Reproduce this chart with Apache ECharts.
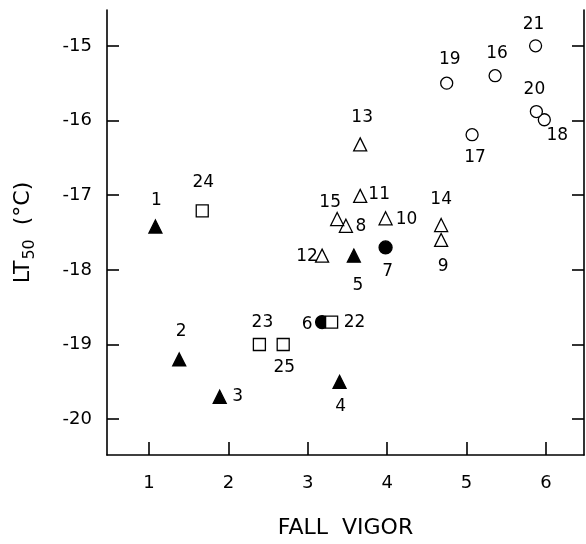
<!DOCTYPE html>
<html>
<head>
<meta charset="utf-8">
<script src="https://cdn.jsdelivr.net/npm/echarts@6/dist/echarts.min.js"></script>
<style>
html,body{margin:0;padding:0;background:#fff;}
#chart{width:586px;height:544px;}
</style>
</head>
<body>
<div id="chart"></div>
<script>
// ---- data ----
const ids    = [1, 2, 3, 4, 5, 6, 7, 8, 9, 10, 11, 12, 13, 14, 15, 16, 17, 18, 19, 20, 21, 22, 23, 24, 25];
const vigor  = [1.08, 1.38, 1.89, 3.40, 3.58, 3.18, 3.98, 3.48, 4.68, 3.98, 3.66, 3.18, 3.66, 4.68, 3.37, 5.36, 5.07, 5.98, 4.75, 5.88, 5.87, 3.30, 2.39, 1.67, 2.69];
const lt50   = [-17.42, -19.20, -19.70, -19.50, -17.81, -18.70, -17.70, -17.41, -17.60, -17.31, -17.01, -17.81, -16.32, -17.40, -17.32, -15.40, -16.19, -15.99, -15.50, -15.88, -15.00, -18.70, -19.00, -17.21, -19.00];
const groupOf = ['A','A','A','A','A','B','B','C','C','C','C','C','C','C','C','D','D','D','D','D','D','E','E','E','E'];
const xTicks = [1, 2, 3, 4, 5, 6];
const yTicks = [-20, -19, -18, -17, -16, -15];

// ---- styles (label offsets from point centre, px) ----
const labelOffset = {
  1:[1,-26], 2:[2,-28], 3:[18,0], 4:[1,25], 5:[4,30], 6:[-15,2], 7:[2,24],
  8:[15,1], 9:[2,27], 10:[21,1], 11:[19,-1], 12:[-15,1], 13:[2,-27], 14:[0,-25],
  15:[-7,-16], 16:[2,-22], 17:[3,23], 18:[13,16], 19:[3,-24], 20:[-2,-22],
  21:[-2,-21], 22:[23,0], 23:[3,-22], 24:[1,-28], 25:[1,23]
};
const groupStyle = {
  A:{symbol:'triangle', size:13, fill:'#000'},
  B:{symbol:'circle',   size:13, fill:'#000'},
  C:{symbol:'triangle', size:13, fill:'#fff'},
  D:{symbol:'circle',   size:12, fill:'#fff'},
  E:{symbol:'rect',     size:12, fill:'#fff'}
};
const FONT = 'DejaVu Sans';

const series = Object.keys(groupStyle).map(g => {
  const st = groupStyle[g];
  const data = [];
  ids.forEach((id, i) => {
    if (groupOf[i] !== g) return;
    data.push({
      value: [vigor[i], lt50[i]],
      name: String(id),
      label: {offset: labelOffset[id]}
    });
  });
  return {
    type: 'scatter',
    symbol: st.symbol,
    symbolSize: st.size,
    itemStyle: {color: st.fill, borderColor: '#000', borderWidth: 1.3, opacity: 1},
    label: {
      show: true, position: 'inside', formatter: p => p.name,
      color: '#000', fontFamily: FONT, fontSize: 17, opacity: 1
    },
    emphasis: {disabled: true},
    data: data
  };
});

const chart = echarts.init(document.getElementById('chart'), null, {renderer: 'canvas'});
const axisLineStyle = {color: '#000', width: 1.6};
chart.setOption({
  animation: false,
  backgroundColor: '#fff',
  grid: {left: 107, right: 2, top: 10, bottom: 87},
  xAxis: {
    type: 'value', min: 0.47, max: 6.48,
    axisLine: {show: true, onZero: false, lineStyle: axisLineStyle},
    axisTick: {show: true, inside: true, length: 13, customValues: xTicks, lineStyle: axisLineStyle},
    axisLabel: {customValues: xTicks, margin: 19, color: '#000', fontFamily: FONT, fontSize: 18},
    splitLine: {show: false},
    name: 'FALL  VIGOR', nameLocation: 'middle', nameGap: 62,
    nameTextStyle: {color: '#000', fontFamily: FONT, fontSize: 22}
  },
  yAxis: [{
    type: 'value', min: -20.48, max: -14.52, position: 'left',
    axisLine: {show: true, onZero: false, lineStyle: axisLineStyle},
    axisTick: {show: true, inside: true, length: 12, customValues: yTicks, lineStyle: axisLineStyle},
    axisLabel: {customValues: yTicks, margin: 15, color: '#000', fontFamily: FONT, fontSize: 18},
    splitLine: {show: false},
    name: '{a|LT}{b|50}{a|  (°C)}', nameLocation: 'middle', nameRotate: 90, nameGap: 71,
    nameTextStyle: {
      color: '#000', fontFamily: FONT,
      rich: {
        a: {fontFamily: FONT, fontSize: 22, color: '#000', lineHeight: 26},
        b: {fontFamily: FONT, fontSize: 16, color: '#000', padding: [14, 0, 0, 1], lineHeight: 26}
      }
    }
  }, {
    type: 'value', min: -20.48, max: -14.52, position: 'right',
    axisLine: {show: true, onZero: false, lineStyle: axisLineStyle},
    axisTick: {show: true, inside: true, length: 12, customValues: yTicks, lineStyle: axisLineStyle},
    axisLabel: {show: false},
    splitLine: {show: false}
  }],
  series: series
});
</script>
</body>
</html>
